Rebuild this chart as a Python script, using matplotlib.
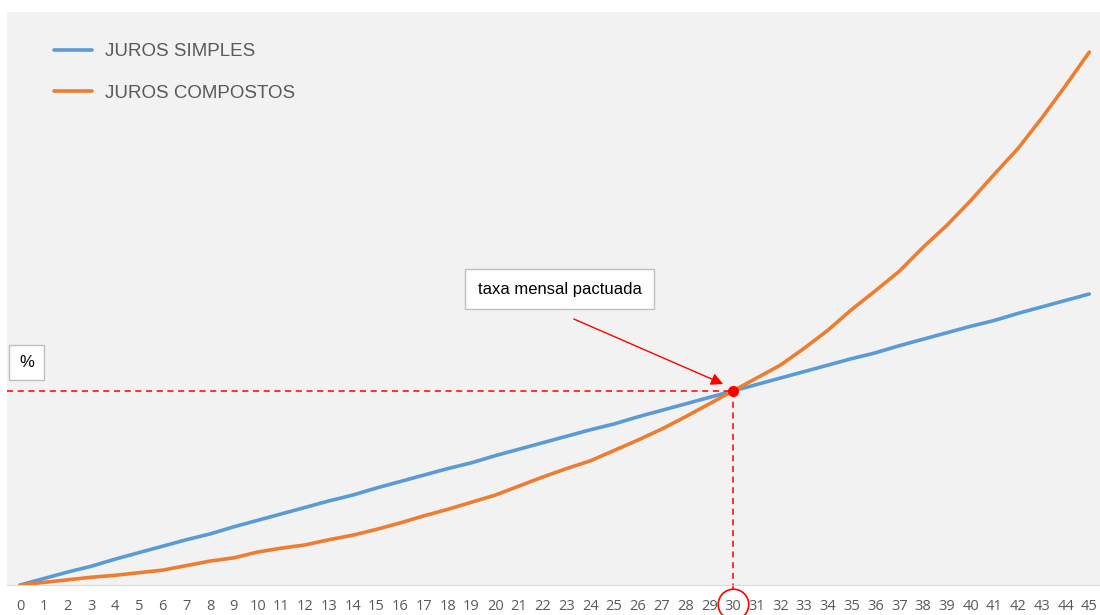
import matplotlib.pyplot as plt

# --- dados ---
periodos = list(range(46))
juros_simples = [0, 1.0, 2.0, 2.9, 4.0, 5.0, 6.0, 7.0, 7.9, 9.0,
                 10.0, 11.0, 12.0, 13.0, 13.9, 15.0, 16.0, 17.0, 18.0, 18.9,
                 20.0, 21.0, 22.0, 23.0, 24.0, 24.9, 26.0, 27.0, 28.0, 29.0,
                 30.0, 31.0, 32.0, 33.0, 34.0, 35.0, 35.9, 37.0, 38.0, 39.0,
                 40.0, 40.9, 42.0, 43.0, 44.0, 45.0]
juros_compostos = [0, 0.4, 0.8, 1.2, 1.5, 1.9, 2.3, 3.0, 3.7, 4.2,
                   5.1, 5.7, 6.2, 7.0, 7.7, 8.6, 9.6, 10.7, 11.7, 12.8,
                   13.9, 15.3, 16.7, 18.0, 19.2, 20.8, 22.4, 24.1, 26.0, 28.0,
                   30.0, 32.0, 34.0, 36.6, 39.4, 42.6, 45.5, 48.5, 52.2, 55.6,
                   59.4, 63.5, 67.5, 72.2, 77.2, 82.4]
ponto_x, ponto_y = 30, 30.0

AZUL = "#5B9BD5"
LARANJA = "#ED7D31"
CINZA = "#595959"
VERMELHO = "#ff0000"

fig = plt.figure(figsize=(11, 6.15), dpi=100)
ax = fig.add_axes([7 / 1100, 30 / 615, 1093 / 1100, 573 / 615])
ax.set_facecolor("#f2f2f2")

ax.plot(periodos, juros_simples, color=AZUL, lw=2.6, label="JUROS SIMPLES",
        solid_capstyle="round")
ax.plot(periodos, juros_compostos, color=LARANJA, lw=2.6, label="JUROS COMPOSTOS",
        solid_capstyle="round")

ax.set_xlim(-0.55, 45.45)
ax.set_ylim(0, 88.6)

# linhas tracejadas até o ponto
ax.plot([-0.55, ponto_x], [ponto_y, ponto_y], color=VERMELHO, lw=1.1, ls=(0, (4, 3)))
ax.plot([ponto_x, ponto_x], [ponto_y, -0.8], color=VERMELHO, lw=1.1, ls=(0, (4, 3)),
        clip_on=False)
ax.plot(ponto_x, ponto_y, "o", color=VERMELHO, ms=7, zorder=5)

# círculo no rótulo 30
ax.plot(ponto_x, -2.95, "o", ms=22, mfc="none", mec=VERMELHO, mew=1.2, clip_on=False)

# seta e caixa de texto
ax.annotate("", xy=(29.7, 30.9), xytext=(23.2, 41.3),
            arrowprops=dict(arrowstyle="-|>", color=VERMELHO, lw=1,
                            mutation_scale=18))
ax.text(22.7, 45.7, "taxa mensal pactuada", ha="center", va="center",
        fontsize=12, family=["Liberation Sans Narrow", "Liberation Sans"],
        bbox=dict(boxstyle="square,pad=0.75", fc="white", ec="#bfbfbf", lw=1))
ax.text(0.27, 34.4, "%", ha="center", va="center", fontsize=12,
        family="Liberation Sans",
        bbox=dict(boxstyle="square,pad=0.6", fc="white", ec="#bfbfbf", lw=1))

# eixos
ax.set_xticks(periodos)
ax.set_xticklabels([str(p) for p in periodos], fontsize=10.5, color=CINZA,
                   family="Open Sans")
ax.tick_params(axis="x", length=0, pad=10)
ax.set_yticks([])
for s in ["top", "right", "left"]:
    ax.spines[s].set_visible(False)
ax.spines["bottom"].set_color("#d9d9d9")

leg = ax.legend(loc="upper left", bbox_to_anchor=(0.028, 0.975), frameon=False,
                prop={"family": "Liberation Sans", "size": 13.5},
                handlelength=2.0, handletextpad=0.7, labelspacing=1.3)
for t in leg.get_texts():
    t.set_color(CINZA)

fig.savefig("out.png", dpi=100)
